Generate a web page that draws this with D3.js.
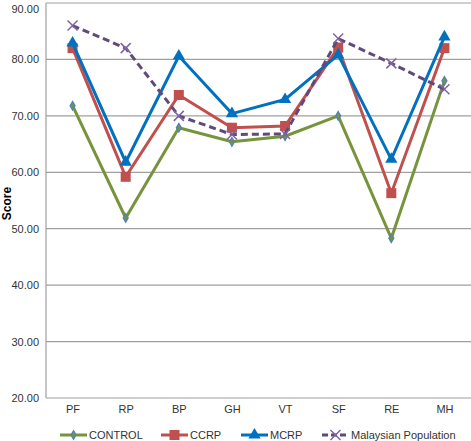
<!DOCTYPE html>
<html><head><meta charset="utf-8">
<script src="https://cdn.jsdelivr.net/npm/d3@7"></script>
<style>body{margin:0;background:#fff}svg{display:block}text{font-family:"Liberation Sans",Arial,sans-serif}</style>
</head><body><svg id="c" width="471" height="441"></svg>
<script>
const categories = ["PF","RP","BP","GH","VT","SF","RE","MH"];
const control = [71.8,51.9,67.9,65.4,66.4,70.0,48.3,76.2];
const ccrp = [82.0,59.2,73.7,67.9,68.2,82.1,56.3,82.0];
const mcrp = [82.9,61.8,80.6,70.4,72.9,80.8,62.3,84.0];
const malaysian = [86.0,82.0,70.0,66.7,66.8,83.7,79.3,74.7];
const yTicks = [20,30,40,50,60,70,80,90];
const seriesNames = ["CONTROL","CCRP","MCRP","Malaysian Population"];

const svg = d3.select("#c");
const L=46, R=471, T=3, B=398;
const x = d3.scalePoint().domain(categories).range([L,R]).padding(0.5);
const y = d3.scaleLinear().domain([20,90]).range([B,T]);

svg.append("g").selectAll("line").data(yTicks).join("line")
  .attr("x1",L).attr("x2",R).attr("y1",d=>y(d)).attr("y2",d=>y(d))
  .attr("stroke","#a0a0a0").attr("stroke-width",1.2);
svg.append("line").attr("x1",L).attr("x2",L).attr("y1",T).attr("y2",B).attr("stroke","#a0a0a0").attr("stroke-width",1.2);

const yAxis = svg.append("g").attr("transform",`translate(${L},0)`)
  .call(d3.axisLeft(y).tickValues(yTicks).tickFormat(d3.format(".2f")).tickSize(0).tickPadding(7));
yAxis.select(".domain").remove();
yAxis.selectAll("text").attr("font-size",11).attr("fill","#333").attr("font-family","Liberation Sans, Arial, sans-serif");
// keep the top label fully inside the canvas
yAxis.selectAll(".tick").filter(d=>d===90).select("text").attr("dy","0.9em");

const xAxis = svg.append("g").attr("transform",`translate(0,${B})`)
  .call(d3.axisBottom(x).tickSize(0).tickPadding(7));
xAxis.select(".domain").remove();
xAxis.selectAll("text").attr("font-size",11).attr("fill","#333").attr("font-family","Liberation Sans, Arial, sans-serif");

svg.append("text").attr("transform",`translate(11,${(T+B)/2+3}) rotate(-90)`).attr("text-anchor","middle")
  .attr("font-size",12).attr("font-weight","bold").text("Score");

const line = d3.line().x((d,i)=>x(categories[i])).y(d=>y(d));
const defs = [
  {name:seriesNames[0], data:control, color:"#77933C", marker:"diamond", mcolor:"#4F81BD", dash:null},
  {name:seriesNames[1], data:ccrp, color:"#C0504D", marker:"square", mcolor:"#C0504D", dash:null},
  {name:seriesNames[2], data:mcrp, color:"#0070C0", marker:"triangle", mcolor:"#0070C0", dash:null},
  {name:seriesNames[3], data:malaysian, color:"#604A7B", marker:"x", mcolor:"#8064A2", dash:"7,4"}
];
function drawMarker(g,type,color,cx,cy){
  if(type==="diamond"){
    g.append("path").attr("d",d3.symbol(d3.symbolDiamond,22)()).attr("transform",`translate(${cx},${cy})`)
      .attr("fill","#77933C").attr("stroke",color).attr("stroke-width",1.2);
  } else if(type==="square"){
    g.append("rect").attr("x",cx-5).attr("y",cy-5).attr("width",10).attr("height",10).attr("fill",color);
  } else if(type==="triangle"){
    g.append("path").attr("d",d3.symbol(d3.symbolTriangle,65)()).attr("transform",`translate(${cx},${cy})`).attr("fill",color);
  } else {
    g.append("path").attr("d",`M${cx-5},${cy-5}L${cx+5},${cy+5}M${cx-5},${cy+5}L${cx+5},${cy-5}`)
      .attr("stroke",color).attr("stroke-width",1.5).attr("fill","none");
  }
}
defs.forEach(s=>{
  const g = svg.append("g");
  g.append("path").datum(s.data).attr("d",line).attr("fill","none").attr("stroke",s.color)
    .attr("stroke-width",3).attr("stroke-dasharray",s.dash);
  s.data.forEach((v,i)=>drawMarker(g,s.marker,s.mcolor,x(categories[i]),y(v)));
});

const legX=[60,161,241,322];
defs.forEach((s,i)=>{
  const g=svg.append("g");
  const ly=435;
  g.append("line").attr("x1",legX[i]).attr("x2",legX[i]+27).attr("y1",ly).attr("y2",ly)
    .attr("stroke",s.color).attr("stroke-width",3).attr("stroke-dasharray",s.dash?"6,3":null);
  drawMarker(g,s.marker,s.mcolor,legX[i]+13.5,ly);
  g.append("text").attr("x",legX[i]+29).attr("y",ly+4).attr("font-size",11).attr("fill","#333").text(s.name);
});
</script></body></html>
